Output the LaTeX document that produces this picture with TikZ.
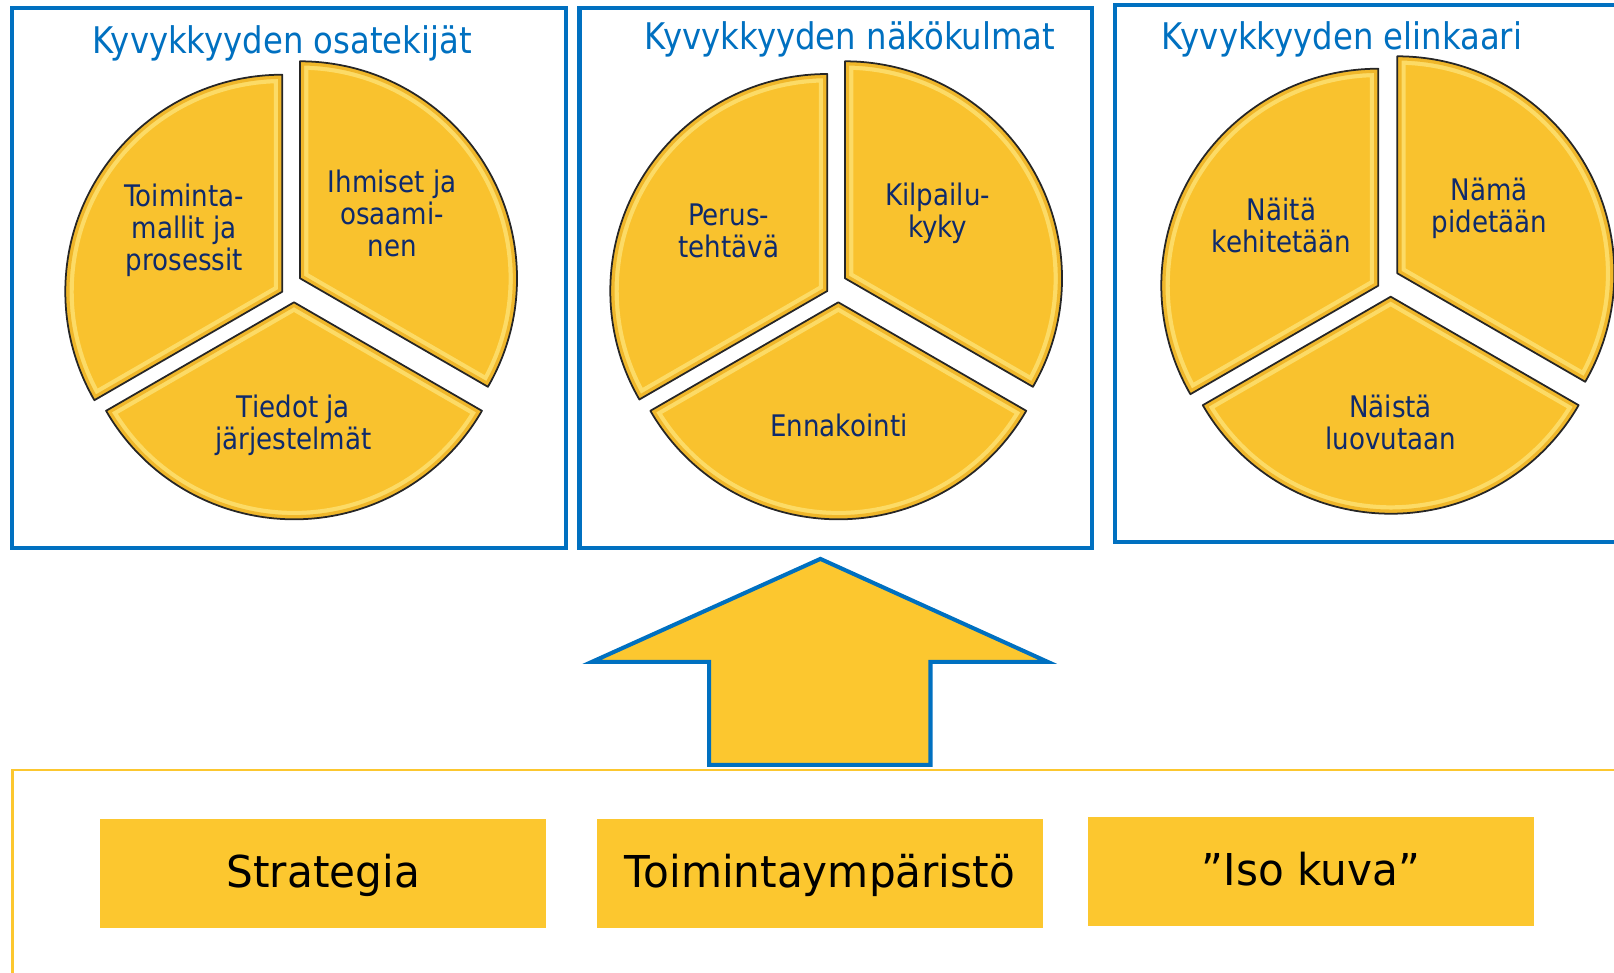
\documentclass[tikz,border=0pt]{standalone}
\usepackage{fontspec}
\setmainfont{DejaVu Sans}[FakeStretch=0.88]
\newfontfamily\keyfont{DejaVu Sans}[FakeStretch=0.96]
\usetikzlibrary{calc}

\definecolor{frameblue}{HTML}{0070C0}
\definecolor{piefill}{HTML}{F9C22E}
\definecolor{pieedge}{HTML}{EEAE1C}
\definecolor{piehigh}{HTML}{FFEC8C}
\definecolor{labelnavy}{HTML}{0E2A6C}
\definecolor{boxyellow}{HTML}{FCC72F}

% radius of the pie slices (pixel units)
\def\sliceradius{217}

% one pie slice: #1,#2 apex (x, y from top), #3,#4 start/end angle
\newcommand{\pieslice}[4]{%
  \begin{scope}[shift={(#1,-#2)}]
    \fill[piefill] (0,0) -- (#3:\sliceradius)
      arc[start angle=#3, end angle=#4, radius=\sliceradius] -- cycle;
    \begin{scope}
      \clip (0,0) -- (#3:\sliceradius)
        arc[start angle=#3, end angle=#4, radius=\sliceradius] -- cycle;
      \draw[piehigh, line width=9.6pt, opacity=0.6] (0,0) -- (#3:\sliceradius)
        arc[start angle=#3, end angle=#4, radius=\sliceradius] -- cycle;
      \draw[pieedge, line width=4.8pt, opacity=0.8] (0,0) -- (#3:\sliceradius)
        arc[start angle=#3, end angle=#4, radius=\sliceradius] -- cycle;
    \end{scope}
    \draw[black!85, line width=1pt, line join=round] (0,0) -- (#3:\sliceradius)
      arc[start angle=#3, end angle=#4, radius=\sliceradius] -- cycle;
  \end{scope}}

% a whole pie: apexes of the upper-left, upper-right and bottom slices
\newcommand{\threepie}[6]{%
  \pieslice{#1}{#2}{90}{210}%
  \pieslice{#3}{#4}{-30}{90}%
  \pieslice{#5}{#6}{210}{330}}

\begin{document}
\begin{tikzpicture}[x=0.02cm, y=0.02cm,
  frame/.style={draw=frameblue, line width=2.3pt},
  paneltitle/.style={text=frameblue, anchor=base, inner sep=0pt,
    font=\fontsize{20.9}{24}\selectfont},
  slicelabel/.style={text=labelnavy, align=center, inner sep=0pt,
    font=\fontsize{16.9}{18.2}\selectfont},
  keybox/.style={fill=boxyellow, inner sep=0pt, minimum width=8.92cm,
    minimum height=2.18cm, text height=20pt, text depth=4.1pt,
    font=\keyfont\fontsize{25}{29}\selectfont}]

\useasboundingbox (0,0) rectangle (1614,-973);
\clip (0,0) rectangle (1614,-973);

% three framed panels
\draw[frame] (12.4,-8.2) rectangle (566,-547.6);
\draw[frame] (579.5,-8.2) rectangle (1092,-547.6);
\draw[frame] (1115,-5) rectangle (1660,-542);

\node[paneltitle] (t1) at (282,-53.5) {Kyvykkyyden osatekijät};
\node[paneltitle] (t2) at (850,-49.4) {Kyvykkyyden näkökulmat};
\node[paneltitle] (t3) at (1342,-49.4) {Kyvykkyyden elinkaari};

% pies
\threepie{282.3}{291.7}{300}{278.3}{294}{302.3}
\threepie{827.3}{291}{845}{278.3}{838.3}{302.3}
\threepie{1378.3}{285.7}{1397.3}{273.3}{1390.7}{296.7}

\node[slicelabel] (a1) at (184.2,-230.6) {Toiminta-\\mallit ja\\prosessit};
\node[slicelabel] (a2) at (392.2,-213.1) {Ihmiset ja\\osaami-\\nen};
\node[slicelabel] (a3) at (293.4,-425.1) {Tiedot ja\\järjestelmät};

\node[slicelabel] (b1) at (728.7,-230.6) {Perus-\\tehtävä};
\node[slicelabel] (b2) at (937.7,-213.1) {Kilpailu-\\kyky};
\node[slicelabel] (b3) at (838.9,-425.1) {Ennakointi};

\node[slicelabel] (c1) at (1281.5,-225.4) {Näitä\\kehitetään};
\node[slicelabel] (c2) at (1489.4,-207.9) {Nämä\\pidetään};
\node[slicelabel] (c3) at (1390.6,-422) {Näistä\\luovutaan};

% upward block arrow
\draw[frame, fill=boxyellow, line join=miter]
  (820.4,-558.9) -- (1047.8,-661.9) -- (930.5,-661.9) -- (930.5,-764.8)
  -- (709.2,-764.8) -- (709.2,-661.9) -- (591.8,-661.9) -- cycle;

% base panel
\draw[boxyellow, line width=1.7pt] (1700,-770) -- (12.4,-770) -- (12.4,-1100);

\node[keybox] (k1) at (323.2,-873.9) {Strategia};
\node[keybox] (k2) at (819.9,-873.9) {Toimintaympäristö};
\node[keybox] (k3) at (1310.8,-871.9) {”Iso kuva”};
\end{tikzpicture}
\end{document}
